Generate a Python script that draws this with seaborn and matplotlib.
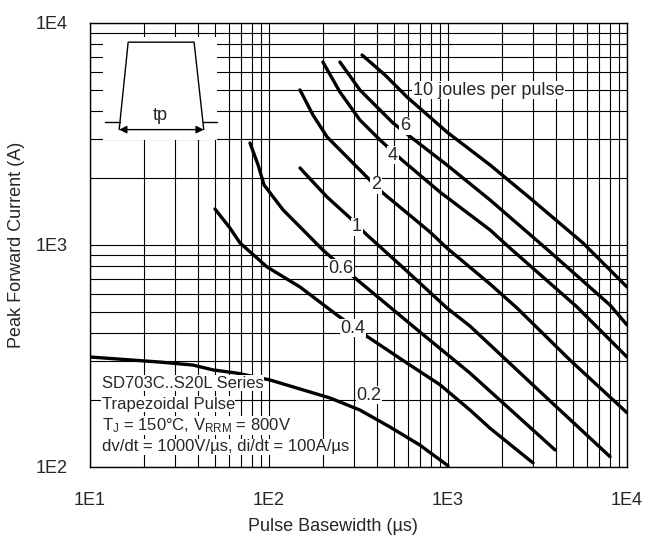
###################################################################################################
# Required Libraries
###################################################################################################
import numpy as np
import pandas as pd
import matplotlib
matplotlib.use("Agg")
import matplotlib.pyplot as plt
from matplotlib.patches import Rectangle
from matplotlib.ticker import FixedLocator, FixedFormatter, NullFormatter
import seaborn as sns

###################################################################################################
# Data (pulse basewidth in us, peak forward current in A)
###################################################################################################
energy_labels = ["0.2", "0.4", "0.6", "1", "2", "4", "6", "10"]

pulse_02 = [10, 24.6, 37.6, 48.6, 66.2, 101, 219, 322, 474, 698, 1000]
amps_02 = [312, 296, 287, 273, 264, 246, 204, 180, 151, 125, 101]

pulse_04 = [49.9, 60.5, 68.9, 97.5, 149, 240, 357, 590, 902, 1327, 1718, 2985]
amps_04 = [1449, 1189, 1018, 794, 645, 482, 384, 293, 234, 180, 149, 104]

pulse_06 = [78.3, 86.9, 93.8, 120, 159, 200, 302, 406, 698, 1327, 3963]
amps_06 = [2872, 2286, 1858, 1433, 1141, 946, 708, 581, 404, 264, 119]

pulse_1 = [149, 174, 211, 284, 348, 540, 986, 1327, 3266, 8035]
amps_1 = [2216, 1936, 1640, 1319, 1117, 811, 519, 430, 218, 111]

pulse_2 = [149, 176, 211, 266, 352, 433, 793, 986, 1718, 2427, 4808, 10000]
amps_2 = [4977, 3840, 3058, 2535, 2018, 1710, 1141, 966, 665, 519, 302, 175]

pulse_4 = [200, 249, 322, 417, 553, 902, 1718, 2218, 5260, 10000]
amps_4 = [6650, 4872, 3645, 2963, 2409, 1726, 1165, 966, 524, 312]

pulse_6 = [249, 322, 493, 629, 986, 1718, 3715, 8035, 10000]
amps_6 = [6650, 4977, 3534, 3025, 2286, 1590, 928, 535, 435]

pulse_10 = [331, 445, 590, 986, 1718, 2871, 5675, 10000]
amps_10 = [7152, 5811, 4627, 3218, 2286, 1622, 1018, 645]

# where the curve labels sit (data coords)
label_text = ["0.2", "0.4", "0.6", "1", "2", "4", "6"]
label_x = [362, 295, 252, 310, 396, 493, 575]
label_y = [210, 421, 785, 1202, 1858, 2535, 3427]

x_ticks = [10, 100, 1000, 10000]
x_tick_labels = ["1E1", "1E2", "1E3", "1E4"]
y_ticks = [100, 1000, 10000]
y_tick_labels = ["1E2", "1E3", "1E4"]

info_lines = [
    "SD703C..S20L Series",
    "Trapezoidal Pulse",
    "T$_{J}$ = 150°C, V$_{RRM}$ = 800V",
    "dv/dt = 1000V/µs, di/dt = 100A/µs",
]


###################################################################################################
# Function name = BuildFrame
# description = long form table of all curves for seaborn
###################################################################################################
def BuildFrame():
    curves = [(pulse_02, amps_02), (pulse_04, amps_04), (pulse_06, amps_06), (pulse_1, amps_1),
              (pulse_2, amps_2), (pulse_4, amps_4), (pulse_6, amps_6), (pulse_10, amps_10)]
    parts = []
    for name, (px, py) in zip(energy_labels, curves):
        parts.append(pd.DataFrame({"pulse": px, "amps": py, "energy": name}))
    return pd.concat(parts, ignore_index=True)


###################################################################################################
# Function name = DrawPulseSketch
# description = little trapezoid drawing in the upper left corner
###################################################################################################
def DrawPulseSketch(ax):
    ins = ax.inset_axes([0.024, 0.736, 0.212, 0.232])
    ins.set_xlim(0, 1)
    ins.set_ylim(0, 1)
    ins.set_axis_off()
    ins.add_patch(Rectangle((0, 0), 1, 1, facecolor="white", edgecolor="none"))
    ins.plot([0.143, 0.222, 0.801, 0.886], [0.10, 0.949, 0.949, 0.10], color="black", lw=1)
    ins.plot([0.02, 0.15], [0.178, 0.178], color="black", lw=1)
    ins.plot([0.88, 1.0], [0.178, 0.178], color="black", lw=1, clip_on=False)
    ins.annotate("", xy=(0.143, 0.10), xytext=(0.886, 0.10),
                 arrowprops=dict(arrowstyle="<|-|>", color="black", lw=1,
                                 mutation_scale=11, shrinkA=0, shrinkB=0))
    ins.text(0.5, 0.24, "tp", ha="center", va="center", fontsize=13)


###################################################################################################
# Function name = main
###################################################################################################
def main():
    sns.set_style("white")
    plt.rcParams["font.family"] = ["Liberation Sans", "DejaVu Sans"]
    plt.rcParams["mathtext.default"] = "regular"

    df = BuildFrame()

    fig = plt.figure(figsize=(6.48, 5.43), dpi=100)
    ax = fig.add_axes([0.1389, 0.1405, 0.8287, 0.8177])
    ax.set_xscale("log")
    ax.set_yscale("log")

    sns.lineplot(data=df, x="pulse", y="amps", hue="energy", hue_order=energy_labels,
                 palette=["black"] * len(energy_labels), estimator=None, sort=False,
                 linewidth=2.4, legend=False, ax=ax, zorder=3)

    ax.set_xlim(10, 10000)
    ax.set_ylim(100, 10000)

    # grid on every decade step
    ax.xaxis.set_major_locator(FixedLocator(x_ticks))
    ax.xaxis.set_major_formatter(FixedFormatter(x_tick_labels))
    ax.yaxis.set_major_locator(FixedLocator(y_ticks))
    ax.yaxis.set_major_formatter(FixedFormatter(y_tick_labels))
    ax.xaxis.set_minor_formatter(NullFormatter())
    ax.yaxis.set_minor_formatter(NullFormatter())
    ax.grid(True, which="both", color="black", lw=0.8)
    ax.set_axisbelow(True)
    ax.tick_params(which="both", length=0)
    ax.tick_params(axis="x", which="major", pad=18, labelsize=13)
    ax.tick_params(axis="y", which="major", pad=16, labelsize=13)
    for sp in ax.spines.values():
        sp.set_color("black")
        sp.set_linewidth(1)

    ax.set_xlabel("Pulse Basewidth (µs)", fontsize=13)
    ax.set_ylabel("Peak Forward Current (A)", fontsize=13)
    ax.xaxis.set_label_coords(0.452, -0.115)
    ax.yaxis.set_label_coords(-0.121, 0.5)

    # curve labels with white boxes
    for t, lx, ly in zip(label_text, label_x, label_y):
        ax.text(lx, ly, t, ha="center", va="center", fontsize=13, zorder=5,
                bbox=dict(facecolor="white", edgecolor="none", pad=0.5))
    ax.text(637, 4975, "10 joules per pulse", ha="left", va="center", fontsize=13, zorder=5,
            bbox=dict(facecolor="white", edgecolor="none", pad=0.5))

    # test condition notes
    for i, line_txt in enumerate(info_lines):
        ax.text(0.022, 0.1885 - i * 0.048, line_txt, transform=ax.transAxes, ha="left",
                va="center", fontsize=12, zorder=5,
                bbox=dict(facecolor="white", edgecolor="none", pad=0.3))

    DrawPulseSketch(ax)

    fig.savefig("out.png", dpi=100)


###################################################################################################
# application starter
###################################################################################################
if __name__ == "__main__":
    main()
